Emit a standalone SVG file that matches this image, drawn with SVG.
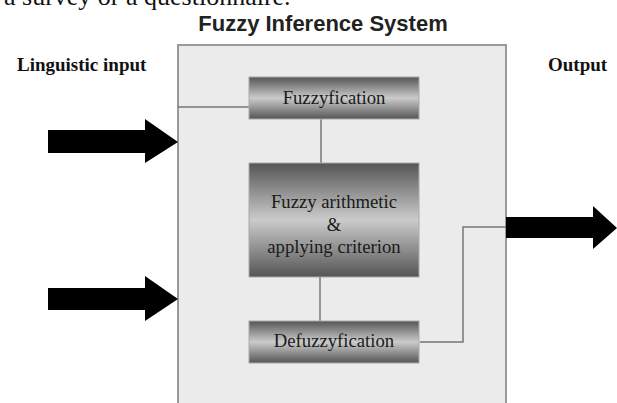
<svg xmlns="http://www.w3.org/2000/svg" width="617" height="403" viewBox="0 0 617 403">
<defs>
<linearGradient id="g" x1="0" y1="0" x2="0" y2="1">
<stop offset="0" stop-color="#555"/>
<stop offset="0.5" stop-color="#cbcbcb"/>
<stop offset="1" stop-color="#555"/>
</linearGradient>
<style>
.proc{fill:url(#g);stroke:#aaa;stroke-width:1}
.pt{font-family:"Liberation Serif",serif;font-size:18.7px;fill:#1a1a1a;text-anchor:middle}
.lbl{font-family:"Liberation Serif",serif;font-size:19px;font-weight:bold;fill:#111}
.wire{fill:none;stroke:#777;stroke-width:1.5}
.arrow{fill:#000}
</style>
</defs>
<rect width="617" height="403" fill="#fff"/>
<text x="4" y="5" font-family="Liberation Serif,serif" font-size="26" fill="#111">a survey or a questionnaire.</text>
<text x="323" y="31" font-family="Liberation Sans,Arial,sans-serif" font-size="22" font-weight="bold" fill="#222" text-anchor="middle">Fuzzy Inference System</text>
<g id="fis">
<rect x="178" y="45" width="328" height="370" fill="#ebebeb" stroke="#999" stroke-width="2"/>
</g>
<text class="lbl" x="17" y="71">Linguistic input</text>
<text class="lbl" x="548" y="71">Output</text>
<g id="connectors">
<polyline class="wire" points="178,107 249,107"/>
<polyline class="wire" points="321,119 321,163"/>
<polyline class="wire" points="320,277 320,321"/>
<polyline class="wire" points="420,342 463,342 463,227 506,227"/>
<polygon class="arrow" points="48,130 145,130 145,119 178,142 145,163 145,153 48,153"/>
<polygon class="arrow" points="48,288 145,288 145,276 178,299 145,321 145,310 48,310"/>
<polygon class="arrow" points="506,217 593,217 593,206 617,228 593,249 593,238 506,238"/>
</g>
<g id="fuzzyfication">
<rect class="proc" x="249" y="77" width="170" height="42"/>
<text class="pt" x="334" y="104">Fuzzyfication</text>
</g>
<g id="arithmetic">
<rect class="proc" x="249" y="163" width="170" height="114"/>
<text class="pt" x="334" y="208">Fuzzy arithmetic</text>
<text class="pt" x="334" y="231">&amp;</text>
<text class="pt" x="334" y="253">applying criterion</text>
</g>
<g id="defuzzyfication">
<rect class="proc" x="249" y="321" width="170" height="42"/>
<text class="pt" x="334" y="347">Defuzzyfication</text>
</g>
</svg>
